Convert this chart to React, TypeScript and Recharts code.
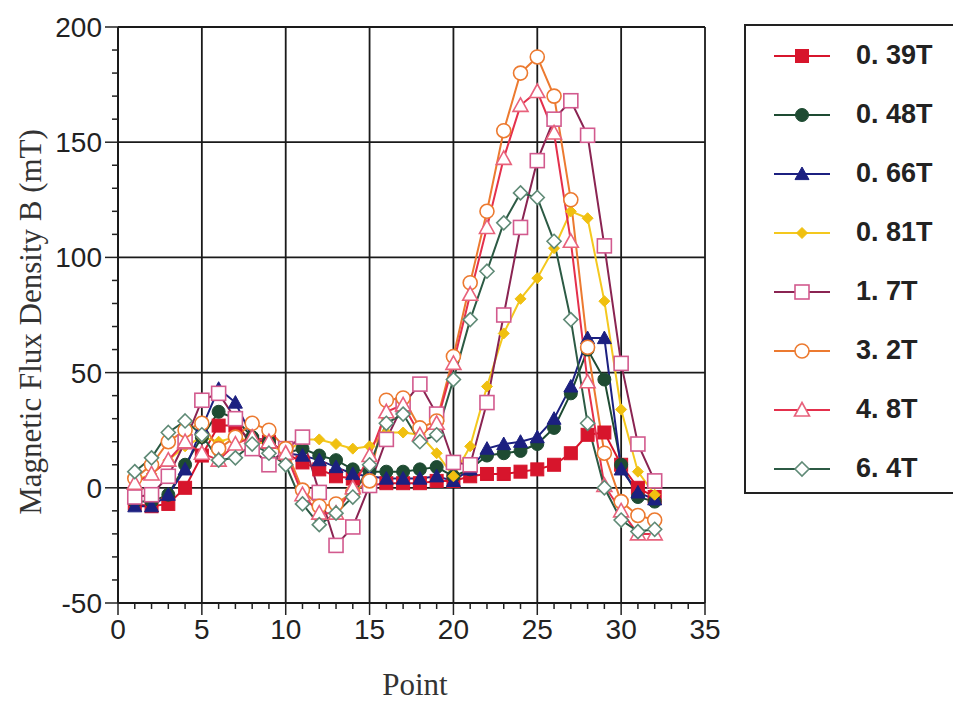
import React from "react";
import {
  LineChart,
  Line,
  XAxis,
  YAxis,
  CartesianGrid,
  Legend,
} from "recharts";

// measurement points along the x axis
const points = [
  1, 2, 3, 4, 5, 6, 7, 8, 9, 10, 11, 12, 13, 14, 15, 16, 17, 18, 19, 20, 21,
  22, 23, 24, 25, 26, 27, 28, 29, 30, 31, 32,
];

// magnetic flux density B (mT) per applied field
const b039 = [
  -7, -8, -7, 0, 14, 27, 27, 20, 20, 15, 11, 8, 5, 4, 1, 2, 2, 2, 3, 3, 5, 6,
  6, 7, 8, 10, 15, 23, 24, 10, 0, -4,
];
const b048 = [
  -6, -6, -3, 10, 22, 33, 30, 22, 20, 15, 17, 14, 12, 8, 7, 7, 7, 8, 9, 5, 8,
  14, 15, 16, 19, 26, 41, 60, 47, 10, -4, -6,
];
const b066 = [
  -8, -8, -3, 8, 26, 43, 37, 22, 20, 15, 14, 12, 9, 6, 5, 4, 4, 4, 5, 3, 8, 17,
  19, 20, 22, 30, 44, 65, 65, 8, -2, -5,
];
const b081 = [
  3, 6, 12, 18, 22, 20, 22, 20, 19, 15, 21, 21, 19, 17, 18, 24, 24, 23, 15, 5,
  18, 44, 67, 82, 91, 104, 120, 117, 81, 34, 7, -3,
];
const b17 = [
  -4, -3, 5, 20, 38, 41, 30, 17, 10, 17, 22, -2, -25, -17, 1, 21, 36, 45, 32,
  11, 10, 37, 75, 113, 142, 160, 168, 153, 105, 54, 19, 3,
];
const b32 = [
  4, 10, 20, 25, 28, 17, 22, 28, 25, 17, -1, -8, -7, -2, 3, 38, 39, 26, 29, 57,
  89, 120, 155, 180, 187, 170, 125, 61, 15, -6, -12, -14,
];
const b48 = [
  2, 6, 12, 20, 15, 12, 19, 22, 20, 15, -3, -11, -11, 0, 14, 33, 36, 23, 28,
  54, 84, 113, 143, 166, 172, 154, 107, 46, 1, -10, -20, -20,
];
const b64 = [
  7, 13, 24, 29, 23, 12, 13, 19, 15, 10, -7, -16, -11, -4, 10, 28, 32, 20, 23,
  47, 73, 94, 115, 128, 126, 107, 73, 28, 0, -14, -19, -18,
];

const xTicks = Array.from({ length: 36 }, (_, i) => i);
const yTicks = Array.from({ length: 26 }, (_, i) => -50 + i * 10);
const xGrid = [0, 5, 10, 15, 20, 25, 30, 35];
const yGrid = [-50, 0, 50, 100, 150, 200];

type Shape = "square" | "circle" | "triangle" | "diamond";

interface Series {
  key: string;
  name: string;
  values: number[];
  line: string;
  stroke: string;
  fill: string;
  shape: Shape;
  size: number;
}

const series: Series[] = [
  { key: "b039", name: "0. 39T", values: b039, line: "#d7152c", stroke: "#d7152c", fill: "#d7152c", shape: "square", size: 13 },
  { key: "b048", name: "0. 48T", values: b048, line: "#1e4b32", stroke: "#1e4b32", fill: "#1e4b32", shape: "circle", size: 13 },
  { key: "b066", name: "0. 66T", values: b066, line: "#1c2080", stroke: "#1c2080", fill: "#1c2080", shape: "triangle", size: 14 },
  { key: "b081", name: "0. 81T", values: b081, line: "#f4c81e", stroke: "#f0c010", fill: "#f0c010", shape: "diamond", size: 11 },
  { key: "b17", name: "1. 7T", values: b17, line: "#8a2452", stroke: "#d25a8e", fill: "#fff", shape: "square", size: 14 },
  { key: "b32", name: "3. 2T", values: b32, line: "#ec7a30", stroke: "#ec7a30", fill: "#fff", shape: "circle", size: 14 },
  { key: "b48", name: "4. 8T", values: b48, line: "#e4304c", stroke: "#e8627c", fill: "#fff", shape: "triangle", size: 15 },
  { key: "b64", name: "6. 4T", values: b64, line: "#2c5a44", stroke: "#5f8a76", fill: "#fff", shape: "diamond", size: 14 },
];

const chartData = points.map((p, i) => {
  const row: Record<string, number> = { point: p };
  series.forEach((s) => {
    row[s.key] = s.values[i];
  });
  return row;
});

const tickFont = "'Liberation Sans', Arial, sans-serif";
const titleFont = "'Liberation Serif', 'Times New Roman', serif";

const Marker = ({ cx, cy, s }: { cx: number; cy: number; s: Series }) => {
  if (cx == null || cy == null) return null;
  const h = s.size / 2;
  const sw = s.fill === "#fff" ? 1.6 : 1;
  if (s.shape === "square") {
    return <rect x={cx - h} y={cy - h} width={s.size} height={s.size} fill={s.fill} stroke={s.stroke} strokeWidth={sw} />;
  }
  if (s.shape === "circle") {
    return <circle cx={cx} cy={cy} r={h} fill={s.fill} stroke={s.stroke} strokeWidth={sw} />;
  }
  if (s.shape === "triangle") {
    const pts = `${cx},${cy - h} ${cx + h},${cy + h * 0.8} ${cx - h},${cy + h * 0.8}`;
    return <polygon points={pts} fill={s.fill} stroke={s.stroke} strokeWidth={sw} />;
  }
  const pts = `${cx},${cy - h} ${cx + h},${cy} ${cx},${cy + h} ${cx - h},${cy}`;
  return <polygon points={pts} fill={s.fill} stroke={s.stroke} strokeWidth={sw} />;
};

const XTick = ({ x, y, payload }: any) => {
  const major = payload.value % 5 === 0;
  return (
    <g>
      <line x1={x} x2={x} y1={y} y2={y + (major ? 12 : 6)} stroke="#222" strokeWidth={1.5} />
      {major && (
        <text x={x} y={y + 16} dy="0.72em" textAnchor="middle" fontFamily={tickFont} fontSize={28} fill="#222">
          {payload.value}
        </text>
      )}
    </g>
  );
};

const YTick = ({ x, y, payload }: any) => {
  const major = payload.value % 50 === 0;
  return (
    <g>
      <line x1={x - (major ? 13 : 6)} x2={x} y1={y} y2={y} stroke="#222" strokeWidth={1.5} />
      {major && (
        <text x={x - 16} y={y} dy="0.36em" textAnchor="end" fontFamily={tickFont} fontSize={28} fill="#222">
          {payload.value}
        </text>
      )}
    </g>
  );
};

const renderLegend = () => (
  <div
    style={{
      width: 240,
      height: 470,
      border: "2px solid #222",
      boxSizing: "border-box",
      background: "#fff",
    }}
  >
    {series.map((s) => (
      <div key={s.key} style={{ display: "flex", alignItems: "center", height: 59 }}>
        <svg width={100} height={30} style={{ marginLeft: 22 }}>
          <line x1={6} x2={62} y1={15} y2={15} stroke={s.line} strokeWidth={2} />
          <Marker cx={34} cy={15} s={s} />
        </svg>
        <span style={{ fontFamily: tickFont, fontSize: 27, fontWeight: "bold", color: "#222", marginLeft: -12 }}>
          {s.name}
        </span>
      </div>
    ))}
  </div>
);

export default function App() {
  return (
    <div
      style={{
        position: "absolute",
        left: 0,
        top: 0,
        width: 953,
        height: 705,
        overflow: "hidden",
        background: "#fff",
      }}
    >
      <LineChart
        width={953}
        height={705}
        data={chartData}
        margin={{ top: 27, right: 248, bottom: 42, left: 48 }}
      >
        <CartesianGrid
          stroke="#1a1a1a"
          strokeWidth={1.8}
          verticalValues={xGrid}
          horizontalValues={yGrid}
        />
        <XAxis
          type="number"
          dataKey="point"
          domain={[0, 35]}
          ticks={xTicks}
          interval={0}
          tickSize={0}
          tickMargin={0}
          tickLine={false}
          tick={<XTick />}
          axisLine={{ stroke: "#1a1a1a", strokeWidth: 2 }}
          height={60}
          allowDataOverflow
          label={{
            content: () => (
              <text x={415} y={695} textAnchor="middle" fontFamily={titleFont} fontSize={31} fill="#333">
                Point
              </text>
            ),
          }}
        />
        <YAxis
          type="number"
          domain={[-50, 200]}
          ticks={yTicks}
          interval={0}
          tickSize={0}
          tickMargin={0}
          tickLine={false}
          tick={<YTick />}
          axisLine={{ stroke: "#1a1a1a", strokeWidth: 2 }}
          width={70}
          allowDataOverflow
          label={{
            content: () => (
              <text
                x={30}
                y={322}
                transform="rotate(-90 30 322)"
                textAnchor="middle"
                dy="0.35em"
                fontFamily={titleFont}
                fontSize={31}
                fill="#333"
              >
                Magnetic Flux Density B (mT)
              </text>
            ),
          }}
        />
        <Legend
          layout="horizontal"
          verticalAlign="middle"
          align="center"
          content={renderLegend}
          wrapperStyle={{ left: 744, top: 24, width: 240, height: 470 }}
        />
        {series.map((s) => (
          <Line
            key={s.key}
            dataKey={s.key}
            name={s.name}
            stroke={s.line}
            strokeWidth={2}
            isAnimationActive={false}
            dot={(p: any) => <Marker key={`${s.key}-${p.index}`} cx={p.cx} cy={p.cy} s={s} />}
            activeDot={false}
          />
        ))}
      </LineChart>
    </div>
  );
}
